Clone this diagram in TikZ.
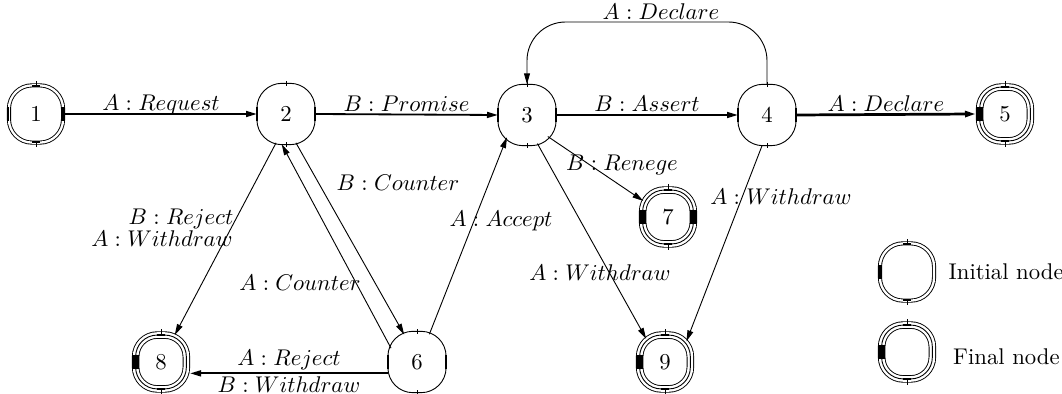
\documentclass[tikz,border=0pt]{standalone}
\usetikzlibrary{arrows.meta, positioning, shapes.geometric, calc}

\newcommand{\statebar}[3]{\draw[line width=#3] ([xshift=#2,yshift=-3pt]#1) -- ([xshift=#2,yshift=3pt]#1);}
\newcommand{\statecap}[3]{\draw[line width=#3] ([xshift=-1.6pt,yshift=#2]#1) -- ([xshift=1.6pt,yshift=#2]#1);}

\begin{document}
\begin{tikzpicture}[x=0.44pt, y=-0.44pt,
    state/.style={ellipse, minimum width=25pt, minimum height=26.4pt, inner sep=0pt, outer sep=0.3pt},
    plainframe/.style={rounded corners=11pt, line width=0.4pt},
    initframe/.style={rounded corners=10.2pt, double, double distance=1pt, line width=0.4pt},
    finalframe/.style={rounded corners=9.5pt, preaction={draw, line width=3.3pt}, preaction={draw=white, line width=2.5pt}, draw, line width=0.4pt},
    edgeline/.style={-{Triangle[length=4.8pt, width=2.6pt]}, line width=0.4pt},
    strong/.style={edgeline, line width=0.8pt},
    over/.style={midway, anchor=base, yshift=1.5pt},
    under/.style={midway, below, inner sep=1pt}
]
\useasboundingbox (0,0) rectangle (1062,394);

% states
\node[state] (s1) at (36,114) {1};
\node[state] (s2) at (286,114) {2};
\node[state] (s3) at (527,115) {3};
\node[state] (s4) at (767,115) {4};
\node[state] (s5) at (1005,114) {5};
\node[state] (s6) at (417,362) {6};
\node[state] (s7) at (668,217) {7};
\node[state] (s8) at (161,362) {8};
\node[state] (s9) at (665,362) {9};

% key
\node[state] (initkey) at (907,272) {};
\node[state] (finalkey) at (907,352) {};
\node[right=2pt of initkey] (initlabel) {Initial node};
\node[right=4pt of finalkey, yshift=-2pt] (finallabel) {Final node};

% frames
\foreach \n in {s2,s3,s4,s6}{
  \draw[plainframe] (\n.west |- \n.south) rectangle (\n.east |- \n.north);
  \statebar{\n.west}{0pt}{1.2pt}
  \statebar{\n.east}{0pt}{1.2pt}
}
\foreach \n in {s1,initkey}{
  \draw[initframe] ($(\n.west |- \n.south)+(0.9pt,0.9pt)$) rectangle ($(\n.east |- \n.north)-(0.9pt,0.9pt)$);
  \statecap{\n.north}{-1.3pt}{0.9pt}
  \statecap{\n.south}{1.3pt}{0.9pt}
}
\foreach \n in {s5,s7,s8,s9,finalkey}{
  \draw[finalframe] ($(\n.west |- \n.south)+(1.65pt,1.65pt)$) rectangle ($(\n.east |- \n.north)-(1.65pt,1.65pt)$);
  \statebar{\n.west}{1.65pt}{3.3pt}
  \statecap{\n.north}{-1.65pt}{1pt}
  \statecap{\n.south}{1.65pt}{1pt}
}
\statebar{s7.east}{-1.65pt}{3.3pt}
\statebar{s1.east}{-0.9pt}{1.8pt}
\statebar{initkey.west}{0.9pt}{1.8pt}
\draw[line width=0.7pt, double, double distance=0.6pt] ([xshift=1pt,yshift=-3pt]s1.west) -- ([xshift=1pt,yshift=3pt]s1.west);
\foreach \n in {s1,s2,s3,s4,s5,s6,s7,s8,s9,initkey,finalkey}{
  \draw ([yshift=-1pt]\n.north) -- ([yshift=1pt]\n.north);
  \draw ([yshift=-1pt]\n.south) -- ([yshift=1pt]\n.south);
}

% connectors
\coordinate (loop) at (0,22);
\draw[strong] (s1.east) -- node[over] {$A:Request$} (s2.west);
\draw[strong] (s2.east) -- node[over] {$B:Promise$} (s3.west);
\draw[strong] (s3.east) -- node[over] {$B:Assert$} (s4.west);
\draw[strong, line width=1.2pt] (s4.east) -- node[over] {$A:Declare$} (s5.west);
\draw[edgeline, rounded corners=17pt] (s4.north) -- (s4.north |- loop) -- (s3.north |- loop) -- (s3.north);
\draw[strong] ([yshift=-5pt]s6.west) -- node[above, inner sep=1pt] {$A:Reject$} node[under] {$B:Withdraw$} ([yshift=-5pt]s8.east);
\draw[edgeline] (s2.251) -- (s8.63);
\draw[edgeline] (s2.289) -- (s6.115);
\draw[edgeline] (s6.152) -- (s2.262);
\draw[edgeline] (s6.66) -- (s3.228);
\draw[edgeline] (s3.314) -- (s7.147);
\draw[edgeline] (s3.290) -- (s9.129);
\draw[edgeline] (s4.261) -- (s9.44);

% labels
\node (ldeclare) at (661,12) {$A:Declare$};
\node (lcounterb) at (398,183) {$B:Counter$};
\node (lcountera) at (300,283) {$A:Counter$};
\node (laccept) at (501,221) {$A:Accept$};
\node (lrenege) at (622,165) {$B:Renege$};
\node (lwithdrawc) at (600,273) {$A:Withdraw$};
\node (lwithdrawd) at (781,197) {$A:Withdraw$};
\node (lreject) at (181,219) {$B:Reject$};
\node (lwithdrawb) at (162,239) {$A:Withdraw$};

\end{tikzpicture}
\end{document}
